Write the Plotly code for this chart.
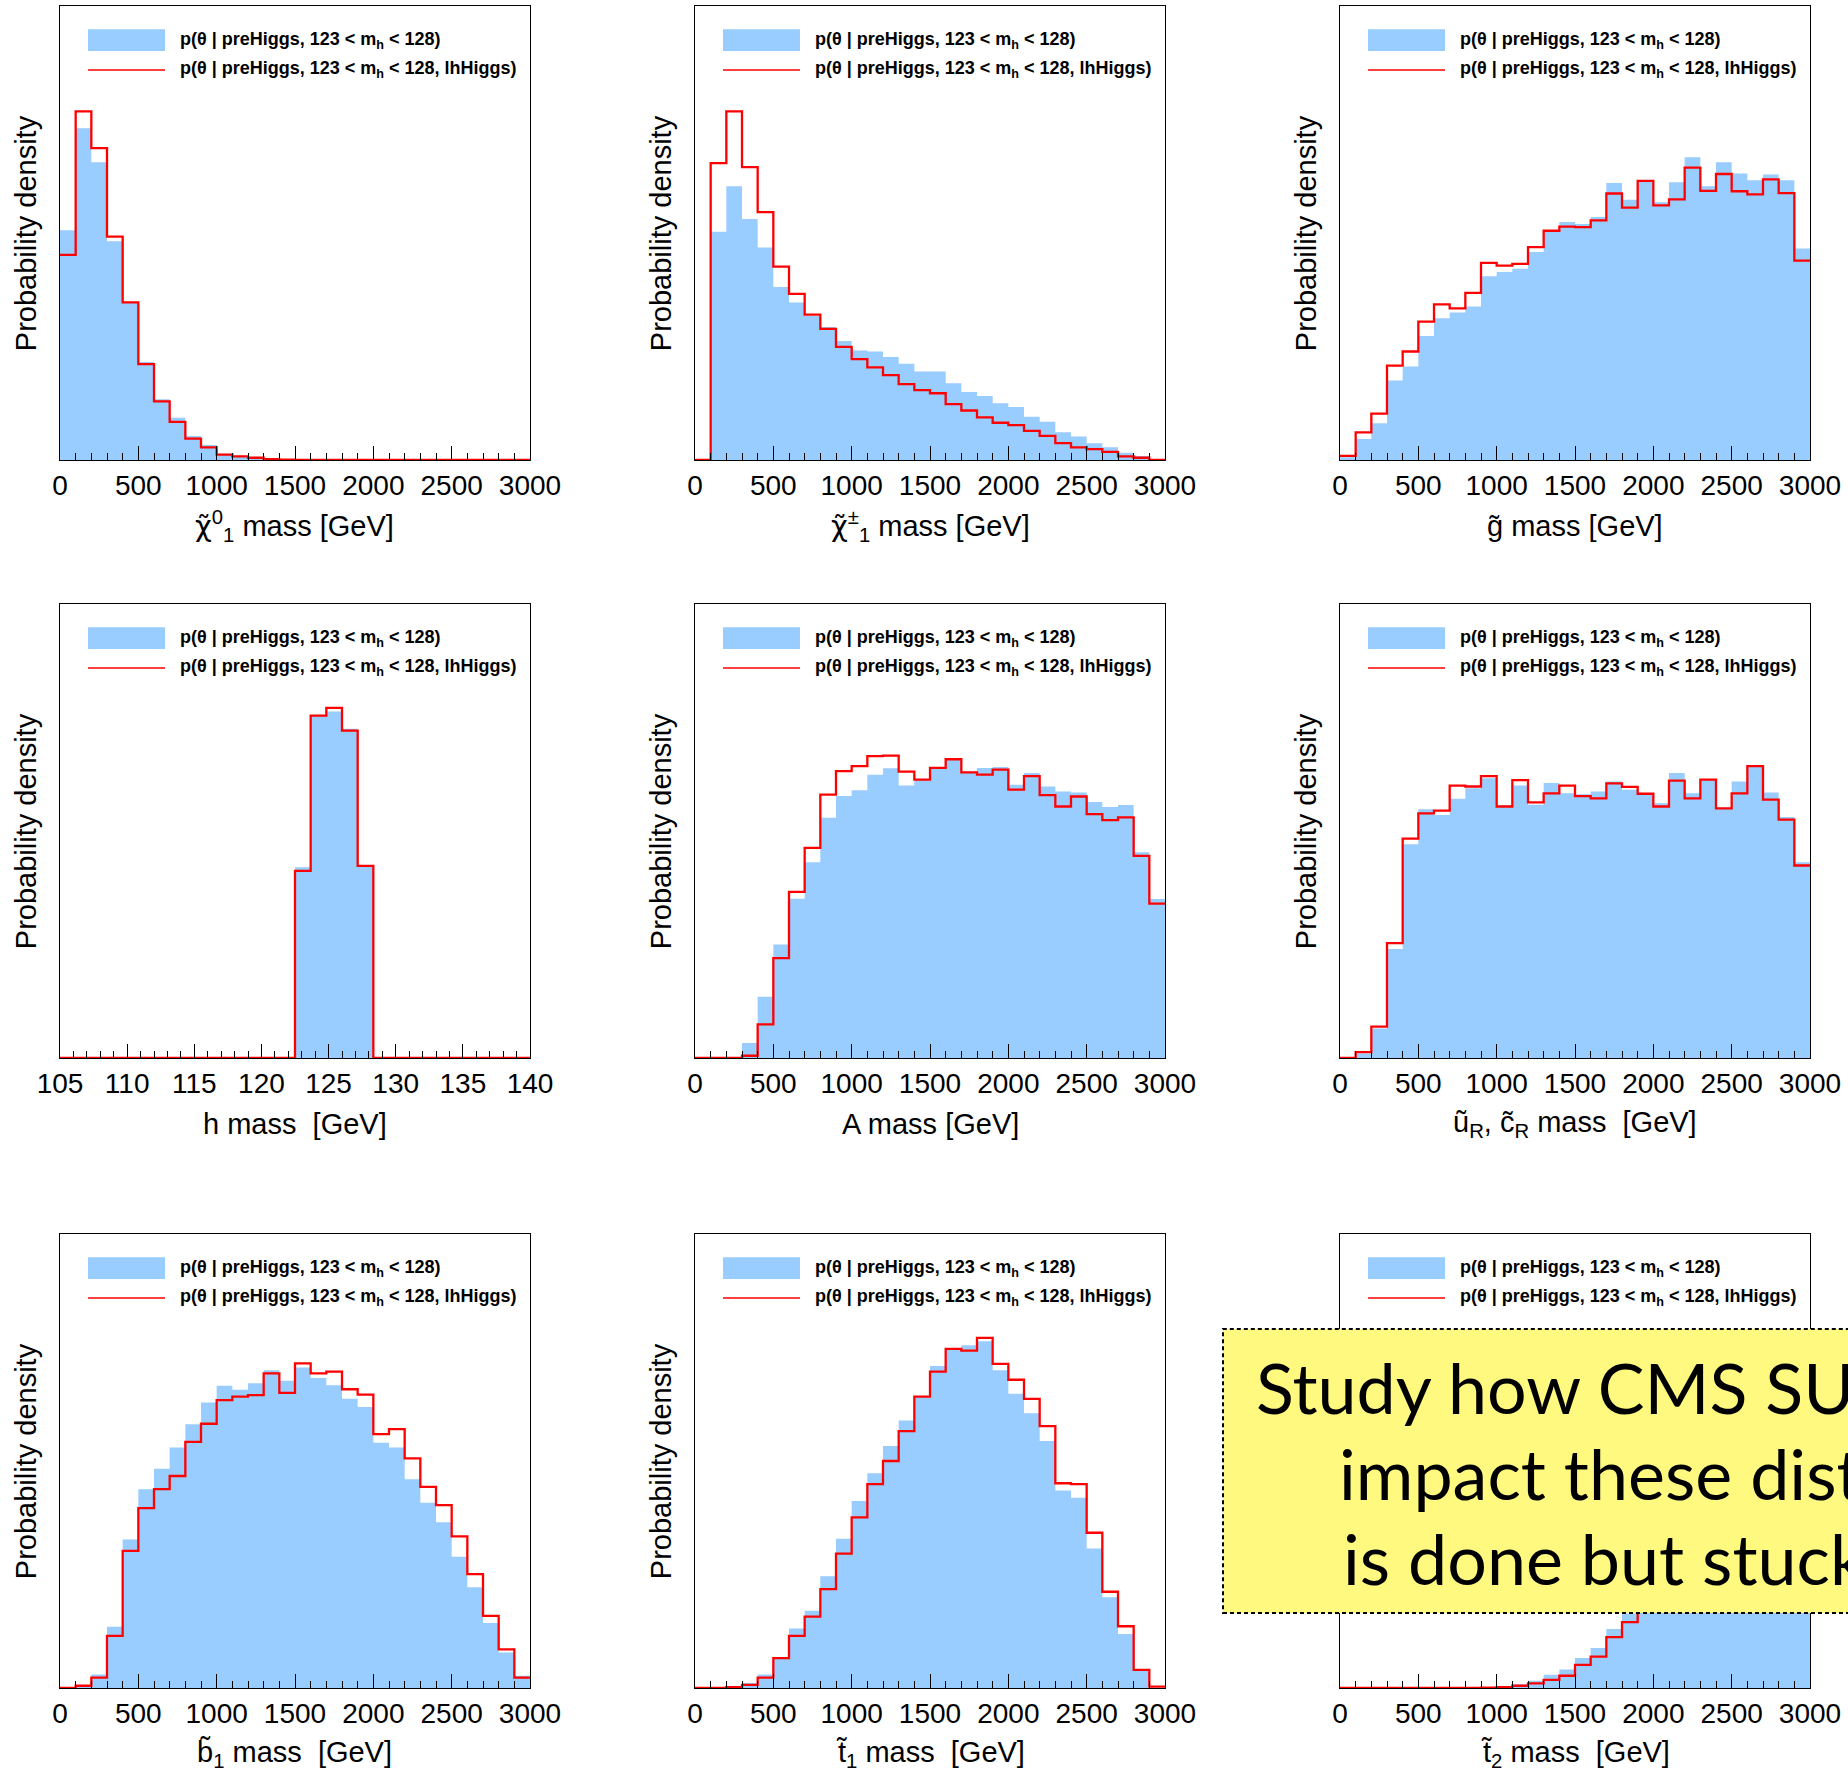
import numpy as np
import plotly.graph_objects as go

W, H = 1848, 1776

# ---- binning -------------------------------------------------------------
mass_edges = np.arange(0, 3001, 100)          # 30 bins of 100 GeV
higgs_edges = np.linspace(105, 140, 31)       # 30 bins over 105-140 GeV

# ---- probability densities (arbitrary units) -----------------------------
# "pre": p(theta | preHiggs, 123 < m_h < 128)
# "lh" : p(theta | preHiggs, 123 < m_h < 128, lhHiggs)
chi10_pre = [0.506, 0.731, 0.656, 0.482, 0.347, 0.216, 0.134, 0.093, 0.053, 0.033,
             0.014, 0.008, 0.005, 0.002, 0.001, 0.001, 0, 0, 0, 0,
             0, 0, 0, 0, 0, 0, 0, 0, 0, 0]
chi10_lh = [0.452, 0.768, 0.687, 0.492, 0.347, 0.211, 0.129, 0.084, 0.047, 0.028,
            0.012, 0.008, 0.005, 0.002, 0.001, 0, 0, 0, 0, 0,
            0, 0, 0, 0, 0, 0, 0, 0, 0, 0]

chipm_pre = [0, 0.503, 0.603, 0.531, 0.468, 0.381, 0.347, 0.317, 0.293, 0.262,
             0.241, 0.239, 0.227, 0.212, 0.195, 0.195, 0.169, 0.150, 0.141, 0.125,
             0.117, 0.095, 0.084, 0.061, 0.052, 0.037, 0.028, 0.016, 0.009, 0.002]
chipm_lh = [0, 0.654, 0.768, 0.645, 0.546, 0.426, 0.366, 0.320, 0.289, 0.249,
            0.222, 0.204, 0.187, 0.167, 0.154, 0.147, 0.123, 0.109, 0.094, 0.082,
            0.077, 0.064, 0.053, 0.037, 0.028, 0.024, 0.018, 0.008, 0.005, 0.0]

gluino_pre = [0.006, 0.046, 0.081, 0.175, 0.206, 0.273, 0.312, 0.325, 0.338, 0.405,
              0.414, 0.421, 0.458, 0.505, 0.524, 0.520, 0.535, 0.610, 0.573, 0.617,
              0.568, 0.612, 0.667, 0.603, 0.656, 0.631, 0.616, 0.629, 0.616, 0.466]
gluino_lh = [0.009, 0.061, 0.102, 0.208, 0.239, 0.305, 0.343, 0.334, 0.368, 0.434,
             0.428, 0.432, 0.469, 0.505, 0.514, 0.513, 0.528, 0.587, 0.556, 0.615,
             0.561, 0.574, 0.644, 0.593, 0.630, 0.592, 0.585, 0.618, 0.588, 0.439]

higgs_pre = [0, 0, 0, 0, 0, 0, 0, 0, 0, 0,
             0, 0, 0, 0, 0, 0.420, 0.754, 0.763, 0.725, 0.423,
             0, 0, 0, 0, 0, 0, 0, 0, 0, 0]
higgs_lh = [0, 0, 0, 0, 0, 0, 0, 0, 0, 0,
            0, 0, 0, 0, 0, 0.412, 0.754, 0.771, 0.721, 0.423,
            0, 0, 0, 0, 0, 0, 0, 0, 0, 0]

A_pre = [0, 0, 0, 0.033, 0.135, 0.250, 0.351, 0.431, 0.529, 0.577,
         0.590, 0.624, 0.638, 0.600, 0.612, 0.640, 0.657, 0.628, 0.639, 0.641,
         0.602, 0.628, 0.598, 0.587, 0.585, 0.564, 0.553, 0.557, 0.453, 0.350]
A_lh = [0, 0, 0, 0.005, 0.074, 0.220, 0.366, 0.463, 0.580, 0.632,
        0.643, 0.665, 0.666, 0.631, 0.613, 0.639, 0.658, 0.629, 0.624, 0.635,
        0.591, 0.621, 0.579, 0.554, 0.576, 0.537, 0.524, 0.530, 0.445, 0.340]

ucR_pre = [0.001, 0.010, 0.065, 0.240, 0.471, 0.548, 0.535, 0.571, 0.594, 0.616,
           0.556, 0.600, 0.558, 0.606, 0.583, 0.581, 0.587, 0.609, 0.591, 0.582,
           0.561, 0.628, 0.583, 0.613, 0.551, 0.609, 0.644, 0.585, 0.531, 0.431]
ucR_lh = [0, 0.013, 0.069, 0.253, 0.483, 0.539, 0.545, 0.600, 0.598, 0.621,
          0.554, 0.612, 0.563, 0.583, 0.600, 0.577, 0.572, 0.605, 0.597, 0.582,
          0.554, 0.611, 0.572, 0.613, 0.550, 0.583, 0.643, 0.569, 0.525, 0.424]

b1_pre = [0, 0.004, 0.030, 0.135, 0.327, 0.438, 0.483, 0.530, 0.581, 0.629,
          0.666, 0.657, 0.671, 0.700, 0.677, 0.706, 0.683, 0.667, 0.637, 0.619,
          0.540, 0.530, 0.460, 0.408, 0.365, 0.289, 0.222, 0.143, 0.078, 0.027]
b1_lh = [0, 0.005, 0.023, 0.115, 0.302, 0.396, 0.438, 0.467, 0.542, 0.582,
         0.634, 0.642, 0.645, 0.693, 0.650, 0.715, 0.693, 0.697, 0.658, 0.646,
         0.559, 0.570, 0.506, 0.443, 0.403, 0.334, 0.251, 0.159, 0.085, 0.023]

t1_pre = [0, 0, 0.003, 0.011, 0.030, 0.068, 0.131, 0.170, 0.246, 0.329,
          0.412, 0.473, 0.533, 0.589, 0.642, 0.709, 0.745, 0.755, 0.764, 0.700,
          0.648, 0.605, 0.544, 0.435, 0.419, 0.307, 0.200, 0.119, 0.039, 0]
t1_lh = [0, 0, 0.002, 0.007, 0.023, 0.066, 0.115, 0.157, 0.218, 0.296,
         0.376, 0.449, 0.500, 0.566, 0.642, 0.697, 0.747, 0.743, 0.771, 0.714,
         0.679, 0.637, 0.577, 0.451, 0.449, 0.342, 0.212, 0.136, 0.040, 0.003]

t2_pre = [0, 0, 0, 0, 0, 0, 0, 0, 0.001, 0.002,
          0.003, 0.008, 0.016, 0.029, 0.041, 0.066, 0.088, 0.130, 0.164, 0.215,
          0.270, 0.330, 0.400, 0.460, 0.520, 0.580, 0.630, 0.670, 0.700, 0.690]
t2_lh = [0, 0, 0, 0, 0, 0, 0, 0, 0, 0.001,
         0.002, 0.005, 0.010, 0.018, 0.027, 0.051, 0.069, 0.112, 0.145, 0.200,
         0.260, 0.320, 0.390, 0.460, 0.530, 0.600, 0.660, 0.710, 0.740, 0.750]

NB = "\u00a0"
CHI = "<span style='font-family:DejaVu Sans'>\u03c7\u0303</span>"
panels = [
    (CHI + "<sup>0</sup><sub>1</sub> mass [GeV]", mass_edges, chi10_pre, chi10_lh),
    (CHI + "<sup>\u00b1</sup><sub>1</sub> mass [GeV]", mass_edges, chipm_pre, chipm_lh),
    ("g\u0303 mass [GeV]", mass_edges, gluino_pre, gluino_lh),
    ("h mass " + NB + "[GeV]", higgs_edges, higgs_pre, higgs_lh),
    ("A mass [GeV]", mass_edges, A_pre, A_lh),
    ("u\u0303<sub>R</sub>, c\u0303<sub>R</sub> mass " + NB + "[GeV]", mass_edges, ucR_pre, ucR_lh),
    ("b\u0303<sub>1</sub> mass " + NB + "[GeV]", mass_edges, b1_pre, b1_lh),
    ("t\u0303<sub>1</sub> mass " + NB + "[GeV]", mass_edges, t1_pre, t1_lh),
    ("t\u0303<sub>2</sub> mass " + NB + "[GeV]", mass_edges, t2_pre, t2_lh),
]

# pixel frames of the 3x3 grid
cols = [(60, 530), (695, 1165), (1340, 1810)]
rows = [(6, 460), (604, 1058), (1234, 1688)]

BLUE = "#99CCFF"
RED = "#FF0000"
FONT = "Liberation Sans, Arial, Helvetica, sans-serif"

fig = go.Figure()
shapes, annotations = [], []
layout = {}

for i, (title, edges, pre, lh) in enumerate(panels):
    n = i + 1
    xa = "x" if n == 1 else f"x{n}"
    ya = "y" if n == 1 else f"y{n}"
    r, c = divmod(i, 3)
    (x0, x1), (t, b) = cols[c], rows[r]
    edges = list(edges)

    # filled histogram
    fig.add_trace(go.Scatter(
        x=edges, y=list(pre) + [pre[-1]], mode="lines", line_shape="hv",
        line=dict(width=0, color=BLUE), fill="tozeroy", fillcolor=BLUE,
        xaxis=xa, yaxis=ya, hoverinfo="skip"))
    # outline histogram
    fig.add_trace(go.Scatter(
        x=edges, y=list(lh) + [lh[-1]], mode="lines", line_shape="hv",
        line=dict(width=2.3, color=RED), xaxis=xa, yaxis=ya, hoverinfo="skip"))

    is_higgs = edges[0] == 105
    layout["xaxis" if n == 1 else f"xaxis{n}"] = dict(
        domain=[x0 / W, x1 / W], anchor=ya, automargin=False,
        range=[edges[0], edges[-1]],
        tickmode="linear", tick0=edges[0], dtick=5 if is_higgs else 500,
        ticks="inside", ticklen=14, tickwidth=1, tickcolor="black",
        minor=dict(tickmode="linear", tick0=edges[0], dtick=1 if is_higgs else 100,
                   ticks="inside", ticklen=7, tickwidth=1, tickcolor="black", showgrid=False),
        showline=True, mirror=True, linecolor="black", linewidth=1,
        showgrid=False, zeroline=False,
        tickfont=dict(family=FONT, size=28, color="black"),
        ticklabelstandoff=0,
    )
    layout["yaxis" if n == 1 else f"yaxis{n}"] = dict(
        domain=[1 - b / H, 1 - t / H], anchor=xa, range=[0, 1], automargin=False,
        showticklabels=False, ticks="", showline=True, mirror=True,
        linecolor="black", linewidth=1, showgrid=False, zeroline=False,
    )

    dx, dy = f"{xa} domain", f"{ya} domain"
    # axis titles
    annotations.append(dict(xref=dx, yref=dy, x=0.5, y=-0.145, xanchor="center", yanchor="middle",
                            text=title, showarrow=False, font=dict(family=FONT, size=29, color="black")))
    if n != 9:  # the note box covers this one
        annotations.append(dict(xref=dx, yref=dy, x=-0.072, y=0.5, xanchor="center", yanchor="middle",
                                textangle=-90, text="Probability density", showarrow=False,
                                font=dict(family=FONT, size=29, color="black")))
    # legend box contents
    shapes.append(dict(type="rect", xref=dx, yref=dy, x0=0.0596, x1=0.2234, y0=0.9009, y1=0.9487,
                       fillcolor=BLUE, line=dict(width=0), layer="above"))
    shapes.append(dict(type="line", xref=dx, yref=dy, x0=0.0596, x1=0.2234, y0=0.859, y1=0.859,
                       line=dict(color=RED, width=1.5), layer="above"))
    lfont = dict(family=FONT, size=18, color="black")
    annotations.append(dict(xref=dx, yref=dy, x=0.251, y=0.924, xanchor="left", yanchor="middle",
                            text="<b>p(\u03b8 | preHiggs, 123 &lt; m<sub>h</sub> &lt; 128)</b>",
                            showarrow=False, font=lfont))
    annotations.append(dict(xref=dx, yref=dy, x=0.251, y=0.861, xanchor="left", yanchor="middle",
                            text="<b>p(\u03b8 | preHiggs, 123 &lt; m<sub>h</sub> &lt; 128, lhHiggs)</b>",
                            showarrow=False, font=lfont))

# yellow note box over the lower-right panel
shapes.append(dict(type="rect", xref="paper", yref="paper",
                   x0=1223 / W, x1=1.05, y0=1 - 1613 / H, y1=1 - 1329 / H,
                   fillcolor="#FFF980", line=dict(color="black", width=2, dash="4px,3px"),
                   layer="above"))
note_font = dict(family="Gill Sans, Lato, sans-serif", size=70, color="black")
note_lines = [("Study how CMS SUSY searches", 1254, 1387),
              ("impact these distributions", 1337, 1473),
              ("is done but stuck", 1341, 1558)]
for txt, px, py in note_lines:
    annotations.append(dict(xref="paper", yref="paper", x=px / W, y=1 - py / H,
                            xanchor="left", yanchor="middle", text=txt, showarrow=False,
                            font=note_font))

fig.update_layout(
    template="none",
    width=W, height=H, margin=dict(l=0, r=0, t=0, b=0, autoexpand=False),
    paper_bgcolor="white", plot_bgcolor="white", showlegend=False,
    shapes=shapes, annotations=annotations, **layout,
)

fig.write_html("out.html", config={"displayModeBar": False})
